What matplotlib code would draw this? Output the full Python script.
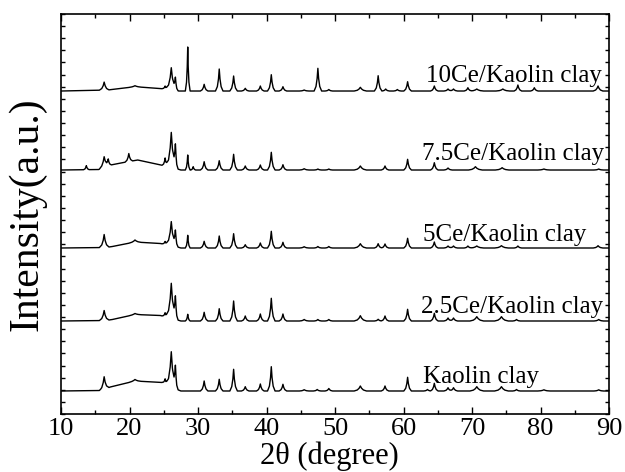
import numpy as np
import matplotlib
matplotlib.use('Agg')
import matplotlib.pyplot as plt
from matplotlib.ticker import MultipleLocator

plt.rcParams['font.family'] = ['Liberation Serif', 'DejaVu Serif']

# sample names, top to bottom in the figure
samples = ['10Ce/Kaolin clay', '7.5Ce/Kaolin clay', '5Ce/Kaolin clay',
           '2.5Ce/Kaolin clay', 'Kaolin clay']
offsets = [323, 244, 166, 93, 23]

# amorphous hump of each pattern (2theta, intensity)
hump_10ce_x = [10, 16.8, 18.0, 20.8, 24.5, 26.5, 27.2, 90]
hump_10ce_y = [0, 1.0, 2.0, 4.3, 2.5, 1.0, 0, 0]
hump_75ce_x = [10, 15.5, 16.5, 18.0, 19.5, 21.2, 24.6, 26.8, 27.5, 90]
hump_75ce_y = [0, 0.5, 4.0, 6.0, 8.0, 10.0, 5.0, 1.5, 0, 0]
hump_5ce_x = [10, 16.5, 17.5, 20.8, 24.5, 26.8, 27.5, 90]
hump_5ce_y = [0, 0.5, 1.5, 6.0, 4.5, 1.5, 0, 0]
hump_25ce_x = [10, 16.5, 17.5, 20.8, 24.5, 26.8, 27.5, 90]
hump_25ce_y = [0, 0.5, 1.5, 6.5, 5.5, 1.5, 0, 0]
hump_kao_x = [10, 15.8, 17.2, 20.8, 24.8, 26.8, 27.5, 90]
hump_kao_y = [0, 0.5, 4.0, 10.0, 8.5, 2.0, 0, 0]

# reflections: position (2theta) and height above the hump
pk_10ce_pos = [16.3, 20.8, 25.2, 26.1, 26.7, 28.5, 30.9, 33.1, 35.2, 36.9, 39.1, 40.7,
               42.4, 45.5, 47.5, 49.1, 53.7, 56.3, 57.4, 59.1, 60.6, 64.5, 66.5, 67.3,
               69.4, 70.7, 74.5, 76.7, 79.1, 88.4]
pk_10ce_h = [8, 1, 3, 22, 11, 44, 6.7, 22, 15, 2.7, 5, 16.3,
             4.3, 1, 22.7, 1.5, 3.7, 15.3, 2, 1.5, 9.3, 5, 2, 2,
             3.3, 2, 2, 6, 3.3, 5]
pk_75ce_pos = [13.7, 16.3, 16.9, 19.9, 25.2, 26.1, 26.7, 28.5, 29.3, 30.9, 33.1, 35.2,
               36.9, 39.1, 40.7, 42.4, 45.5, 47.5, 49.1, 53.7, 57.3, 60.6, 64.5, 66.5,
               70.5, 74.4, 80.5, 88.5]
pk_75ce_h = [4, 10, 6, 8, 8, 35, 21, 15, 3.3, 8.3, 9.3, 15.7,
             4, 5, 17.7, 5.3, 1.3, 1, 1, 4, 4, 10.7, 7.3, 2,
             3.3, 2.3, 1, 1]
pk_5ce_pos = [16.3, 20.8, 25.2, 26.1, 26.7, 28.5, 30.9, 33.1, 35.2, 36.9, 39.1, 40.7,
              42.4, 45.5, 47.5, 49.1, 53.7, 56.3, 57.3, 60.6, 64.5, 66.5, 67.3, 69.4,
              70.7, 74.3, 76.7, 88.4]
pk_5ce_h = [13, 2, 3, 24, 14, 12.7, 6.7, 12, 14.3, 3.3, 5, 16.7,
            5.7, 1.3, 1.5, 1.5, 4.3, 4.3, 4, 9.7, 6, 2, 2, 2,
            2, 2.3, 2, 2.3]
pk_25ce_pos = [16.3, 20.8, 25.2, 26.1, 26.7, 28.5, 30.9, 33.1, 35.2, 36.9, 39.1, 40.7,
               42.4, 45.5, 47.5, 49.1, 53.7, 56.3, 57.3, 60.6, 64.5, 66.5, 67.3, 70.7,
               74.3, 76.5, 88.5]
pk_25ce_h = [10, 1, 4, 35, 20, 6.7, 8.7, 12.3, 20, 5, 7, 22.7,
             7, 1.5, 1.5, 1.5, 5.3, 1.7, 5, 11.7, 7.7, 3, 3, 4.3,
             4.3, 1.5, 1.5]
pk_kao_pos = [16.3, 20.8, 25.2, 26.1, 26.7, 30.9, 33.1, 35.2, 36.9, 39.1, 40.7, 42.4,
              45.5, 47.4, 49.1, 53.7, 57.3, 60.6, 63.5, 64.5, 66.5, 67.3, 70.7, 74.3,
              76.5, 80.5, 88.5]
pk_kao_h = [12.5, 1.5, 5, 35, 20, 10, 11.7, 21.7, 4.3, 7, 24.3, 6.7,
            1.3, 1.5, 2.5, 5, 5, 13.7, 1.5, 7.7, 3.3, 3.3, 4.3, 4.3,
            1.5, 1.2, 1.2]

humps = [(hump_10ce_x, hump_10ce_y), (hump_75ce_x, hump_75ce_y), (hump_5ce_x, hump_5ce_y),
         (hump_25ce_x, hump_25ce_y), (hump_kao_x, hump_kao_y)]
peaks = [(pk_10ce_pos, pk_10ce_h), (pk_75ce_pos, pk_75ce_h), (pk_5ce_pos, pk_5ce_h),
         (pk_25ce_pos, pk_25ce_h), (pk_kao_pos, pk_kao_h)]

# peak shape (half base width in degrees), default 0.55
half_width = {16.3: 0.7, 16.9: 0.45, 19.9: 0.55, 20.8: 0.9, 25.2: 0.45, 26.1: 0.8,
              26.7: 0.4, 28.5: 0.35, 29.3: 0.35, 13.7: 0.4, 45.5: 0.7, 53.7: 0.9,
              66.5: 0.6, 67.3: 0.6, 70.5: 1.0, 70.7: 1.0, 74.3: 1.0, 74.4: 1.0,
              74.5: 1.0, 80.5: 0.9, 88.4: 0.7, 88.5: 0.7}
shape_off = np.array([-1, -0.5, -0.2, 0, 0.2, 0.5, 1])
shape_frac = np.array([0, 0.2, 0.55, 1, 0.55, 0.2, 0])


def pattern(hx, hy, pos, h):
    xs = [np.asarray(hx, float)]
    for p in pos:
        xs.append(p + shape_off * half_width.get(p, 0.55))
    x = np.unique(np.concatenate(xs))
    y = np.interp(x, hx, hy)
    for p, a in zip(pos, h):
        w = half_width.get(p, 0.55)
        y = y + np.interp(x, p + shape_off * w, a * shape_frac, left=0, right=0)
    return x, y


fig = plt.figure(figsize=(6.25, 4.72), dpi=100)
ax = fig.add_axes([0.0976, 0.1229, 0.8768, 0.8474])

label_dy = [9, 10, 7, 8, 8]
label_x = [63.3, 62.7, 62.8, 62.6, 62.9]
for name, off, (hx, hy), (pos, h), dy, lx in zip(samples, offsets, humps, peaks, label_dy, label_x):
    x, y = pattern(hx, hy, pos, h)
    ax.plot(x, y + off, color='black', lw=1.0)
    ax.text(lx, off + dy, name, fontsize=18, va='baseline', ha='left')

ax.set_xlim(10, 90)
ax.set_ylim(0, 400)
ax.xaxis.set_major_locator(MultipleLocator(10))
ax.xaxis.set_minor_locator(MultipleLocator(5))
ax.yaxis.set_major_locator(MultipleLocator(400 / 33))
ax.set_yticklabels([])
ax.tick_params(axis='x', which='major', direction='in', length=5, width=1,
               top=True, labelsize=19, pad=3)
ax.tick_params(axis='x', which='minor', direction='in', length=3, width=1, top=True)
ax.tick_params(axis='y', which='major', direction='in', length=3, width=1,
               right=True, labelleft=False)
for s in ax.spines.values():
    s.set_linewidth(1.2)

ax.set_xlabel('2θ (degree)', fontsize=22)
ax.xaxis.set_label_coords(0.49, -0.068)
ax.set_ylabel('Intensity(a.u.)', fontsize=30)
ax.yaxis.set_label_coords(-0.026, 0.5)

fig.savefig('out.png', dpi=100)
